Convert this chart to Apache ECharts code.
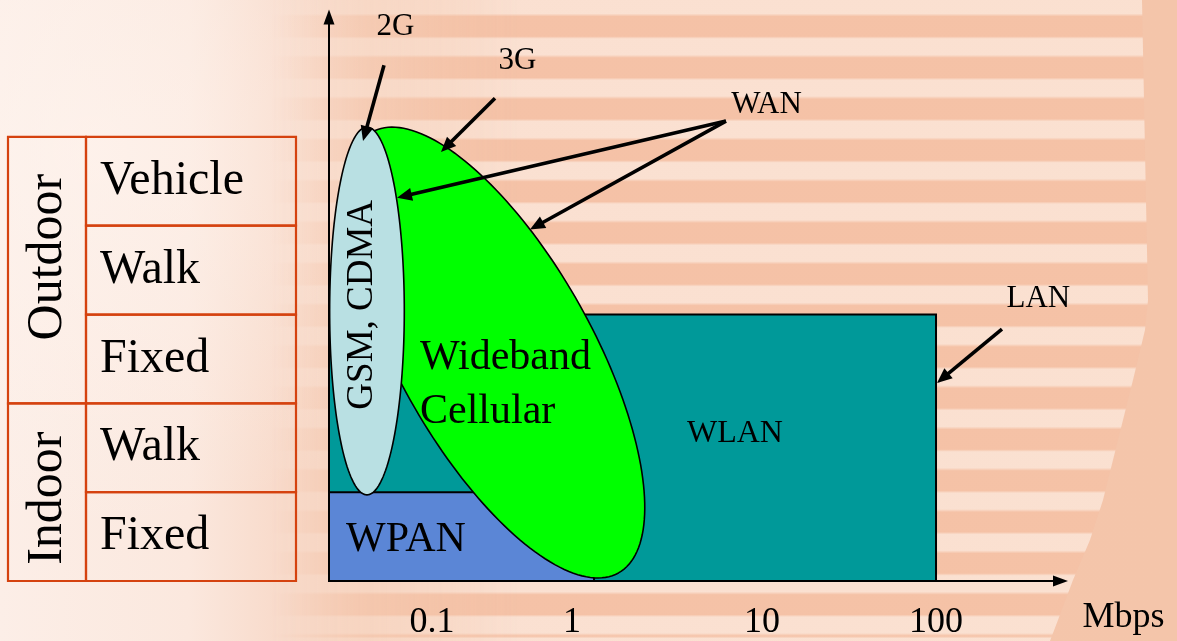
<!DOCTYPE html>
<html>
<head>
<meta charset="utf-8">
<script src="https://cdn.jsdelivr.net/npm/echarts@6/dist/echarts.min.js"></script>
<style>
  html, body { margin: 0; padding: 0; }
  #stage {
    position: relative; width: 1177px; height: 641px; overflow: hidden;
    background:
      radial-gradient(ellipse 420px 380px at 90px 150px, rgba(255,246,241,0.55), rgba(255,246,241,0) 100%),
      linear-gradient(to right, #FCEEE7 0%, #FBE8DE 16%, #F8DACA 24%, #F5CCB4 31%, #F4C6AB 40%, #F4C5AA 100%);
  }
  #stripes {
    position: absolute; left: 0; top: 0; width: 1177px; height: 641px;
    background-image: repeating-linear-gradient(to bottom,
      rgba(244,193,166,0.92) 0px,
      rgba(250,226,212,0.92) 2.5px, rgba(250,226,212,0.92) 18.5px,
      rgba(244,193,166,0.92) 21.5px, rgba(244,193,166,0.92) 41.3px);
    background-position: 0 -5px;
    clip-path: polygon(0 0, 1142px 0, 1148px 300px, 1145px 330px, 1133px 380px, 1123px 420px,
      1113px 460px, 1103px 500px, 1090px 540px, 1073px 580px, 1058px 620px, 1050px 641px, 0 641px);
    -webkit-mask-image: linear-gradient(to right, rgba(0,0,0,0) 23%, rgba(0,0,0,0.4) 30%, #000 44%);
    mask-image: linear-gradient(to right, rgba(0,0,0,0) 23%, rgba(0,0,0,0.4) 30%, #000 44%);
  }
  #chart { position: absolute; left: 0; top: 0; width: 1177px; height: 641px; }
</style>
</head>
<body>
<div id="stage"><div id="stripes"></div><div id="chart"></div></div>
<script>
// ---- data (rates in Mbps, mobility in table rows counted from the bottom) ----
const rateTicks = [0.1, 1, 10, 100];
const rateDecadeRange = [-1.55, 2.728];
const mobilityRange = [0, 6.35];

const mobilityRows = ['Fixed', 'Walk', 'Fixed', 'Walk', 'Vehicle'];
const settingNames = ['Indoor', 'Outdoor'];
const settingRowFrom = [0, 2];
const settingRowTo = [2, 5];

// rectangular coverage zones, starting at the origin
const zoneNames = ['WLAN', 'WPAN'];
const zoneMaxRate = [100, 1];
const zoneMaxRow = [3, 1];
const zoneLabelRate = [6.67, 0.0795];
const zoneLabelRow = [1.66, 0.46];

// elliptical coverage regions: centre, one end of the long axis, width / length
const cellNames = ['Wideband\nCellular', 'GSM, CDMA'];
const cellCenterRate = [0.2635, 0.0470];
const cellCenterRow = [2.572, 3.04];
const cellTipRate = [1.39, 0.0470];
const cellTipRow = [0.091, 5.11];
const cellAspect = [0.3845, 0.203];
const cellLabelRate = [0.096, 0.0442];
const cellLabelRow = [2.21, 3.11];

// generation / network call-outs and their arrows
const calloutNames = ['2G', '3G', 'WAN', 'LAN'];
const calloutRate = [0.069, 0.3566, 10.2, 397];
const calloutRow = [6.241, 5.86, 5.358, 3.172];
const arrowFromRate = [0.0591, 0.2635, 5.909, 5.909, 243];
const arrowFromRow = [5.806, 5.436, 5.178, 5.178, 2.836];
const arrowToRate = [0.04455, 0.1273, 0.07043, 0.422, 101.3];
const arrowToRow = [4.954, 4.831, 4.315, 3.957, 2.23];

// ---- styling ----
const SERIF = '"Liberation Serif", "Times New Roman", serif';
const zoneColors = ['#009999', '#5B86D6'];
const zoneFonts = [32, 42];
const cellColors = ['#00FF00', '#B9E0E3'];
const cellFonts = [42, 37];
const cellRotation = [0, Math.PI / 2];
const tableBorder = '#D5420F';
const tableX = [8, 86, 296];          // column edges of the mobility table (px)
const settingTextShift = [6, -13];    // vertical nudge of the rotated group names (px)
const tickNudge = [9, -22, -3, 0];    // horizontal nudge of rate tick labels (px)

const dec = v => Math.log10(v);
const chart = echarts.init(document.getElementById('chart'), null, { renderer: 'canvas' });

const tickRich = {};
tickNudge.forEach((n, i) => {
  tickRich['t' + i] = {
    fontFamily: SERIF, fontSize: 36, color: '#000',
    padding: n >= 0 ? [0, 0, 0, 2 * n] : [0, -2 * n, 0, 0]
  };
});

const option = {
  animation: false,
  grid: { left: 329, right: 116.5, top: 17, bottom: 58 },
  xAxis: {
    type: 'value',
    min: rateDecadeRange[0], max: rateDecadeRange[1],
    name: 'Mbps', nameLocation: 'end', nameGap: 63,
    nameTextStyle: { fontFamily: SERIF, fontSize: 36, color: '#000', align: 'center', verticalAlign: 'top', lineHeight: 36, padding: [19, 0, 0, 0] },
    axisLine: { show: true, onZero: false, symbol: ['none', 'triangle'], symbolSize: [11, 15], lineStyle: { color: '#000', width: 2 } },
    axisTick: { show: false },
    splitLine: { show: false },
    axisLabel: {
      show: true, margin: 24,
      customValues: rateTicks.map(dec),
      formatter: v => {
        const i = rateTicks.findIndex(t => Math.abs(dec(t) - v) < 1e-6);
        return i < 0 ? '' : '{t' + i + '|' + rateTicks[i] + '}';
      },
      rich: tickRich,
      fontFamily: SERIF, fontSize: 36, color: '#000', lineHeight: 36
    }
  },
  yAxis: {
    type: 'value',
    min: mobilityRange[0], max: mobilityRange[1],
    axisLine: { show: true, onZero: false, symbol: ['none', 'triangle'], symbolSize: [11, 15], lineStyle: { color: '#000', width: 2 } },
    axisTick: { show: false }, axisLabel: { show: false }, splitLine: { show: false }
  },
  series: [
    // mobility table on the left, aligned to the rows of the vertical axis
    {
      type: 'custom', z: 3,
      data: mobilityRows.map((name, i) => [rateDecadeRange[0], i]),
      renderItem(params, api) {
        const i = params.dataIndex;
        const lo = api.coord([rateDecadeRange[0], api.value(1)]);
        const hi = api.coord([rateDecadeRange[0], api.value(1) + 1]);
        const children = [
          { type: 'rect', shape: { x: tableX[1], y: hi[1], width: tableX[2] - tableX[1], height: lo[1] - hi[1] },
            style: { fill: 'none', stroke: tableBorder, lineWidth: 2.2 } },
          { type: 'text', x: tableX[1] + 14, y: (lo[1] + hi[1]) / 2,
            style: { text: mobilityRows[i], fill: '#000', font: '48px ' + SERIF, align: 'left', verticalAlign: 'middle' } }
        ];
        return { type: 'group', children };
      }
    },
    {
      type: 'custom', z: 3,
      data: settingNames.map((name, i) => [rateDecadeRange[0], settingRowFrom[i], settingRowTo[i]]),
      renderItem(params, api) {
        const i = params.dataIndex;
        const lo = api.coord([rateDecadeRange[0], api.value(1)]);
        const hi = api.coord([rateDecadeRange[0], api.value(2)]);
        return { type: 'group', children: [
          { type: 'rect', shape: { x: tableX[0], y: hi[1], width: tableX[1] - tableX[0], height: lo[1] - hi[1] },
            style: { fill: 'none', stroke: tableBorder, lineWidth: 2.2 } },
          { type: 'text', x: (tableX[0] + tableX[1]) / 2 + 1, y: (lo[1] + hi[1]) / 2 + settingTextShift[i], rotation: Math.PI / 2,
            style: { text: settingNames[i], fill: '#000', font: '50px ' + SERIF, align: 'center', verticalAlign: 'middle' } }
        ] };
      }
    },
    // rectangular zones (WLAN, WPAN)
    {
      type: 'custom', z: 4,
      data: zoneNames.map((n, i) => [rateDecadeRange[0], dec(zoneMaxRate[i]), 0, zoneMaxRow[i], dec(zoneLabelRate[i]), zoneLabelRow[i]]),
      renderItem(params, api) {
        const i = params.dataIndex;
        const p0 = api.coord([api.value(0), api.value(3)]);
        const p1 = api.coord([api.value(1), api.value(2)]);
        const lp = api.coord([api.value(4), api.value(5)]);
        return { type: 'group', children: [
          { type: 'rect', shape: { x: p0[0], y: p0[1], width: p1[0] - p0[0], height: p1[1] - p0[1] },
            style: { fill: zoneColors[i], stroke: '#000', lineWidth: 2 } },
          { type: 'text', x: lp[0], y: lp[1], z2: 5,
            style: { text: zoneNames[i], fill: '#000', font: zoneFonts[i] + 'px ' + SERIF, align: 'center', verticalAlign: 'middle' } }
        ] };
      }
    },
    // elliptical coverage regions (Wideband Cellular, GSM/CDMA)
    {
      type: 'custom', z: 5,
      data: cellNames.map((n, i) => [dec(cellCenterRate[i]), cellCenterRow[i], dec(cellTipRate[i]), cellTipRow[i], cellAspect[i], dec(cellLabelRate[i]), cellLabelRow[i]]),
      renderItem(params, api) {
        const i = params.dataIndex;
        const c = api.coord([api.value(0), api.value(1)]);
        const t = api.coord([api.value(2), api.value(3)]);
        const ax = t[0] - c[0], ay = t[1] - c[1];
        const k = api.value(4);
        const bx = -ay * k, by = ax * k;
        const pts = [];
        const N = 180;
        for (let j = 0; j < N; j++) {
          const a = j / N * Math.PI * 2;
          pts.push([c[0] + ax * Math.cos(a) + bx * Math.sin(a), c[1] + ay * Math.cos(a) + by * Math.sin(a)]);
        }
        const lp = api.coord([api.value(5), api.value(6)]);
        const label = cellRotation[i]
          ? { type: 'text', x: lp[0], y: lp[1], rotation: cellRotation[i], z2: 5,
              style: { text: cellNames[i], fill: '#000', font: cellFonts[i] + 'px ' + SERIF, align: 'center', verticalAlign: 'middle' } }
          : { type: 'text', x: lp[0], y: lp[1], z2: 5,
              style: { text: cellNames[i], fill: '#000', font: cellFonts[i] + 'px ' + SERIF, lineHeight: 54, align: 'left', verticalAlign: 'middle' } };
        return { type: 'group', children: [
          { type: 'polygon', shape: { points: pts }, style: { fill: cellColors[i], stroke: '#000', lineWidth: 1.6 } },
          label
        ] };
      }
    },
    // call-out arrows
    {
      type: 'custom', z: 6,
      data: arrowFromRate.map((r, i) => [dec(r), arrowFromRow[i], dec(arrowToRate[i]), arrowToRow[i]]),
      renderItem(params, api) {
        const a = api.coord([api.value(0), api.value(1)]);
        const b = api.coord([api.value(2), api.value(3)]);
        const dx = b[0] - a[0], dy = b[1] - a[1];
        const len = Math.hypot(dx, dy);
        const ux = dx / len, uy = dy / len;
        const head = 15, half = 6.5;
        const base = [b[0] - ux * head, b[1] - uy * head];
        return { type: 'group', children: [
          { type: 'line', shape: { x1: a[0], y1: a[1], x2: base[0] + ux * 2, y2: base[1] + uy * 2 },
            style: { stroke: '#000', lineWidth: 3.6 } },
          { type: 'polygon', shape: { points: [b, [base[0] - uy * half, base[1] + ux * half], [base[0] + uy * half, base[1] - ux * half]] },
            style: { fill: '#000' } }
        ] };
      }
    },
    // call-out captions
    {
      type: 'custom', z: 6,
      data: calloutNames.map((n, i) => [dec(calloutRate[i]), calloutRow[i]]),
      renderItem(params, api) {
        const p = api.coord([api.value(0), api.value(1)]);
        return { type: 'text', x: p[0], y: p[1],
          style: { text: calloutNames[params.dataIndex], fill: '#000', font: '31px ' + SERIF, align: 'center', verticalAlign: 'middle' } };
      }
    }
  ]
};
chart.setOption(option);
</script>
</body>
</html>
